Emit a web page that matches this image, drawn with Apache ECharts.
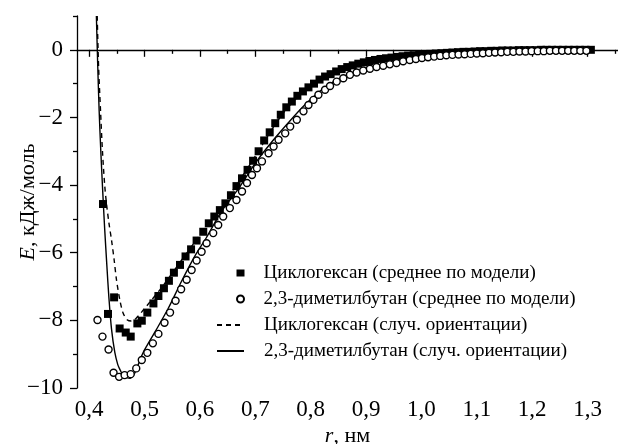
<!DOCTYPE html>
<html>
<head>
<meta charset="utf-8">
<script src="https://cdn.jsdelivr.net/npm/echarts@6.0.0/dist/echarts.min.js"></script>
<style>
html,body{margin:0;padding:0;background:#fff;}
#c{width:618px;height:444px;}
</style>
</head>
<body>
<div id="c"></div>
<script>
// ---- data ----
const xMajorTicks = [0.4, 0.5, 0.6, 0.7, 0.8, 0.9, 1.0, 1.1, 1.2, 1.3];
const xMinorTicks = [0.45, 0.55, 0.65, 0.75, 0.85, 0.95, 1.05, 1.15, 1.25, 1.35];
const yMajorTicks = [-10, -8, -6, -4, -2, 0];
const yMinorTicks = [-9, -7, -5, -3, -1, 1];

const nameCyclohexaneModel = 'Циклогексан (среднее по модели)';
const nameDmbModel = '2,3-диметилбутан (среднее по модели)';
const nameCyclohexaneRandom = 'Циклогексан (случ. ориентации)';
const nameDmbRandom = '2,3-диметилбутан (случ. ориентации)';

const cyclohexaneModel = [
  [0.425,-4.56],[0.434,-7.81],[0.445,-7.32],[0.455,-8.24],[0.466,-8.36],[0.475,-8.48],
  [0.487,-8.09],[0.495,-8.01],[0.505,-7.77],[0.516,-7.50],[0.525,-7.28],[0.535,-7.05],
  [0.544,-6.83],[0.553,-6.59],[0.564,-6.36],[0.574,-6.11],[0.584,-5.90],[0.594,-5.64],
  [0.606,-5.38],[0.616,-5.13],[0.626,-4.93],[0.636,-4.74],[0.646,-4.54],[0.656,-4.30],
  [0.666,-4.03],[0.676,-3.80],[0.686,-3.55],[0.696,-3.28],[0.706,-3.00],[0.716,-2.68],
  [0.726,-2.44],[0.736,-2.17],[0.746,-1.92],[0.756,-1.70],[0.766,-1.53],[0.776,-1.36],
  [0.786,-1.23],[0.796,-1.11],[0.806,-1.00],[0.816,-0.88],[0.826,-0.79],[0.836,-0.72],
  [0.846,-0.64],[0.856,-0.57],[0.866,-0.51],[0.876,-0.46],[0.886,-0.41],[0.896,-0.37],
  [0.906,-0.33],[0.916,-0.30],[0.926,-0.27],[0.936,-0.25],[0.946,-0.23],[0.956,-0.21],
  [0.966,-0.19],[0.976,-0.17],[0.986,-0.16],[0.996,-0.14],[1.006,-0.13],[1.016,-0.12],
  [1.026,-0.11],[1.036,-0.10],[1.046,-0.09],[1.056,-0.08],[1.066,-0.07],[1.076,-0.06],
  [1.086,-0.06],[1.096,-0.05],[1.106,-0.04],[1.116,-0.04],[1.126,-0.03],[1.136,-0.03],
  [1.146,-0.02],[1.156,-0.02],[1.166,-0.02],[1.176,-0.01],[1.186,-0.01],[1.196,-0.01],
  [1.206,-0.01],[1.216,0],[1.226,0],[1.236,0],[1.246,0],[1.256,0],[1.266,0],[1.276,0],
  [1.286,0],[1.296,0],[1.306,0]
];

const dmbModel = [
  [0.415,-7.99],[0.424,-8.48],[0.435,-8.86],[0.444,-9.55],[0.454,-9.67],[0.464,-9.62],
  [0.475,-9.59],[0.485,-9.42],[0.495,-9.17],[0.505,-8.96],[0.515,-8.68],[0.525,-8.40],
  [0.536,-8.07],[0.546,-7.77],[0.556,-7.42],[0.566,-7.08],[0.576,-6.80],[0.585,-6.51],
  [0.594,-6.23],[0.603,-5.97],[0.612,-5.72],[0.624,-5.42],[0.633,-5.18],[0.642,-4.93],
  [0.654,-4.68],[0.666,-4.44],[0.676,-4.19],[0.685,-3.94],[0.694,-3.70],[0.703,-3.50],
  [0.712,-3.30],[0.724,-3.06],[0.733,-2.86],[0.742,-2.66],[0.754,-2.47],[0.763,-2.27],
  [0.775,-2.07],[0.787,-1.82],[0.796,-1.63],[0.805,-1.48],[0.814,-1.33],[0.826,-1.18],
  [0.835,-1.07],[0.847,-0.94],[0.859,-0.84],[0.871,-0.74],[0.883,-0.67],[0.895,-0.61],
  [0.907,-0.56],[0.919,-0.51],[0.931,-0.47],[0.943,-0.43],[0.955,-0.39],[0.967,-0.34],
  [0.979,-0.30],[0.990,-0.27],[1.001,-0.24],[1.012,-0.22],[1.023,-0.20],[1.034,-0.18],
  [1.045,-0.16],[1.056,-0.15],[1.067,-0.14],[1.078,-0.13],[1.089,-0.12],[1.100,-0.11],
  [1.111,-0.10],[1.122,-0.09],[1.133,-0.08],[1.144,-0.07],[1.155,-0.06],[1.166,-0.06],
  [1.177,-0.05],[1.188,-0.05],[1.199,-0.04],[1.210,-0.04],[1.221,-0.04],[1.232,-0.03],
  [1.243,-0.03],[1.254,-0.03],[1.265,-0.03],[1.276,-0.03],[1.287,-0.03],[1.298,-0.03]
];

const cyclohexaneRandom = [
  [0.4145,1.0],[0.417,-0.5],[0.4205,-1.8],[0.424,-3.0],[0.428,-4.0],[0.4312,-4.54],
  [0.4355,-5.1],[0.4403,-5.62],[0.445,-6.2],[0.4493,-6.80],[0.4554,-7.40],[0.4614,-7.79],
  [0.4691,-7.99],[0.476,-8.02],[0.484,-7.95],[0.495,-7.75],[0.51,-7.45],[0.53,-7.05],
  [0.55,-6.6],[0.57,-6.15],[0.59,-5.7],[0.61,-5.25],[0.63,-4.82],[0.65,-4.38],
  [0.67,-3.9],[0.69,-3.4],[0.71,-2.88],[0.73,-2.35],[0.75,-1.88],[0.77,-1.5],
  [0.79,-1.2],[0.81,-0.97],[0.83,-0.79],[0.85,-0.63],[0.87,-0.5],[0.9,-0.37],
  [0.95,-0.23],[1.0,-0.14],[1.05,-0.09],[1.1,-0.06],[1.2,-0.03],[1.3,-0.01]
];

const dmbRandom = [
  [0.413,1.0],[0.4155,-0.5],[0.418,-1.8],[0.421,-3.0],[0.4245,-4.2],[0.428,-5.3],
  [0.432,-6.4],[0.4355,-7.3],[0.4403,-8.25],[0.4463,-8.95],[0.4515,-9.3],[0.4554,-9.45],
  [0.46,-9.6],[0.4644,-9.67],[0.4734,-9.71],[0.4825,-9.55],[0.49,-9.25],[0.4975,-8.95],
  [0.5186,-8.35],[0.5426,-7.65],[0.5666,-6.85],[0.5908,-6.1],[0.6118,-5.55],[0.64,-4.75],
  [0.67,-4.1],[0.70,-3.35],[0.73,-2.72],[0.76,-2.15],[0.79,-1.62],[0.82,-1.18],
  [0.85,-0.86],[0.88,-0.66],[0.92,-0.5],[0.96,-0.36],[1.0,-0.26],[1.05,-0.17],
  [1.1,-0.11],[1.15,-0.07],[1.2,-0.05],[1.25,-0.04],[1.3,-0.03]
];

// ---- chart ----
const FONT = '"Liberation Serif", "Times New Roman", serif';
const chart = echarts.init(document.getElementById('c'), null, {renderer: 'canvas'});
const fmtX = v => v.toFixed(1).replace('.', ',');
const fmtY = v => (v < 0 ? '\u2212' : '') + Math.abs(Math.round(v));

const X_MIN = 0.378, X_MAX = 1.355, Y_MIN = -10, Y_MAX = 1;
const TICK_FS = 23, NAME_FS = 22, LEG_FS = 19;

const nameStyle = {
  fontFamily: FONT, fontSize: NAME_FS, color: '#000',
  rich: {i: {fontFamily: FONT, fontSize: NAME_FS, fontStyle: 'italic', color: '#000'}}
};

const option = {
  animation: false,
  backgroundColor: '#fff',
  grid: {left: 77, right: 0, top: 16, bottom: 56, containLabel: false, outerBoundsMode: 'none'},
  xAxis: [{
    type: 'value', min: X_MIN, max: X_MAX, position: 'bottom',
    name: '{i|r}, нм', nameLocation: 'middle', nameGap: 37, nameMoveOverlap: false,
    nameTextStyle: nameStyle,
    axisLine: {show: true, lineStyle: {color: '#000', width: 1.3}},
    axisTick: {show: true, inside: false, length: 7, lineStyle: {color: '#000', width: 1.3}, customValues: xMajorTicks},
    axisLabel: {show: true, margin: 10, color: '#000', fontFamily: FONT, fontSize: TICK_FS, customValues: xMajorTicks, formatter: fmtX},
    splitLine: {show: false}
  }, {
    type: 'value', min: X_MIN, max: X_MAX, position: 'bottom', offset: 0,
    axisLine: {show: false},
    axisTick: {show: true, inside: false, length: 4, lineStyle: {color: '#000', width: 1.3}, customValues: xMinorTicks},
    axisLabel: {show: false},
    splitLine: {show: false}
  }],
  yAxis: [{
    type: 'value', min: Y_MIN, max: Y_MAX, position: 'left',
    name: '{i|E}, кДж/моль', nameLocation: 'middle', nameGap: 38, nameRotate: 90, nameMoveOverlap: false,
    nameTextStyle: nameStyle,
    axisLine: {show: true, lineStyle: {color: '#000', width: 1.3}},
    axisTick: {show: true, inside: false, length: 7, lineStyle: {color: '#000', width: 1.3}, customValues: yMajorTicks},
    axisLabel: {show: true, margin: 14, color: '#000', fontFamily: FONT, fontSize: TICK_FS, customValues: yMajorTicks, formatter: fmtY},
    splitLine: {show: false}
  }, {
    type: 'value', min: Y_MIN, max: Y_MAX, position: 'left', offset: 0,
    axisLine: {show: false},
    axisTick: {show: true, inside: false, length: 4, lineStyle: {color: '#000', width: 1.3}, customValues: yMinorTicks},
    axisLabel: {show: false},
    splitLine: {show: false}
  }],
  legend: [{
    data: [nameCyclohexaneModel, nameDmbModel],
    orient: 'vertical', left: 236, top: 263, padding: 0,
    itemWidth: 8, itemHeight: 7, itemGap: 6,
    textStyle: {fontFamily: FONT, fontSize: LEG_FS, color: '#000', padding: [0, 0, 0, 14], lineHeight: 20}
  }, {
    data: [nameCyclohexaneRandom, nameDmbRandom],
    orient: 'vertical', left: 216, top: 315, padding: 0,
    itemWidth: 27, itemHeight: 8, itemGap: 6,
    itemStyle: {opacity: 0},
    textStyle: {fontFamily: FONT, fontSize: LEG_FS, color: '#000', padding: [0, 0, 0, 15], lineHeight: 20}
  }],
  series: [{
    name: nameCyclohexaneRandom, type: 'line', data: cyclohexaneRandom,
    xAxisIndex: 0, yAxisIndex: 0, smooth: 0.3, symbol: 'none', showSymbol: false, clip: true, z: 2,
    lineStyle: {color: '#000', width: 1.4, type: [5, 4]}, itemStyle: {color: '#000'}
  }, {
    name: nameDmbRandom, type: 'line', data: dmbRandom,
    xAxisIndex: 0, yAxisIndex: 0, smooth: 0.3, symbol: 'none', showSymbol: false, clip: true, z: 2,
    lineStyle: {color: '#000', width: 1.4, type: 'solid'}, itemStyle: {color: '#000'}
  }, {
    name: nameCyclohexaneModel, type: 'scatter', data: cyclohexaneModel,
    xAxisIndex: 0, yAxisIndex: 0, symbol: 'rect', symbolSize: 8, z: 3,
    itemStyle: {color: '#000', opacity: 1}
  }, {
    name: nameDmbModel, type: 'scatter', data: dmbModel,
    xAxisIndex: 0, yAxisIndex: 0, symbol: 'circle', symbolSize: 7, z: 4,
    itemStyle: {color: '#fff', borderColor: '#000', borderWidth: 1.4, opacity: 1}
  }]
};
chart.setOption(option);
</script>
</body>
</html>
